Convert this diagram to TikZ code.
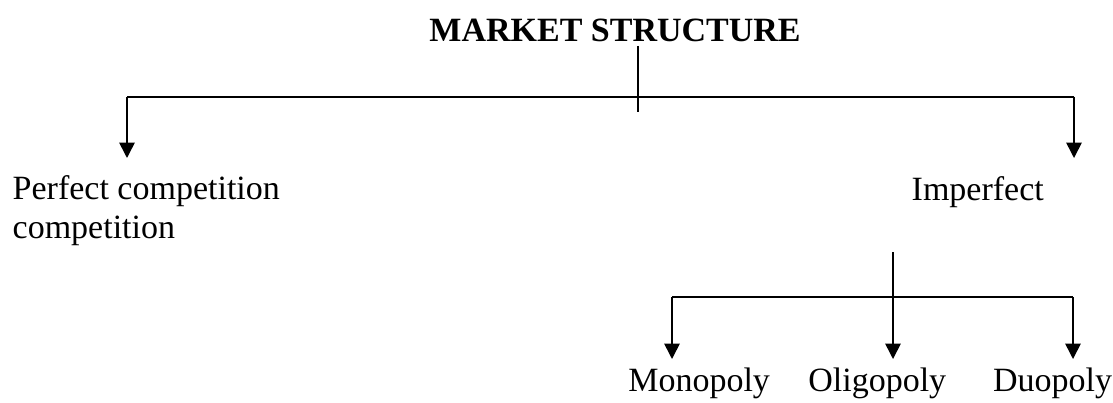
\documentclass[tikz,border=0pt]{standalone}
\usepackage{fontspec}
\setmainfont{Liberation Serif}
\usetikzlibrary{arrows.meta}
\tikzset{
  lbl/.style={inner sep=0pt, outer sep=0pt, font=\fontsize{25.5}{29.3}\selectfont},
  ttl/.style={inner sep=0pt, outer sep=0pt, font=\fontsize{25.5}{29.3}\selectfont\bfseries},
  ln/.style={line width=1.2pt},
  arr/.style={line width=1.2pt, -{Triangle[width=11.5pt,length=11.5pt]}}
}
\begin{document}
\begin{tikzpicture}[x=0.75pt,y=-0.75pt]
\useasboundingbox (0,0) rectangle (1113,403);
% texts
\node[ttl, anchor=base east] (ms) at (800.7,41.7) {MARKET STRUCTURE};
\node[lbl, anchor=base west, align=left] (perf) at (12.7,238.5) {Perfect competition\\competition};
\node[lbl, anchor=base west] (imp) at (911.7,200.5) {Imperfect};
\node[lbl, anchor=base west] (mono) at (628.3,391.7) {Monopoly};
\node[lbl, anchor=base west] (oli) at (808.3,391.7) {Oligopoly};
\node[lbl, anchor=base west] (duo) at (993,391.7) {Duopoly};
% junction coordinates
\coordinate (t1) at (638,46);
\coordinate (t2) at (638,112);
\coordinate (hl) at (127,96.7);
\coordinate (hr) at (1074,96.7);
\coordinate (pa) at (127,158);
\coordinate (ia) at (1074,158);
\coordinate (s1) at (893,252);
\coordinate (bl) at (672,297);
\coordinate (br) at (1073,297);
\coordinate (ma) at (672,359);
\coordinate (oa) at (893,359);
\coordinate (da) at (1073,359);
% connectors
\draw[ln] (t1) -- (t2);
\draw[ln] (hl) -- (hr);
\draw[arr] (hl) -- (pa);
\draw[arr] (hr) -- (ia);
\draw[ln] (bl) -- (br);
\draw[arr] (s1) -- (oa);
\draw[arr] (bl) -- (ma);
\draw[arr] (br) -- (da);
\end{tikzpicture}
\end{document}
